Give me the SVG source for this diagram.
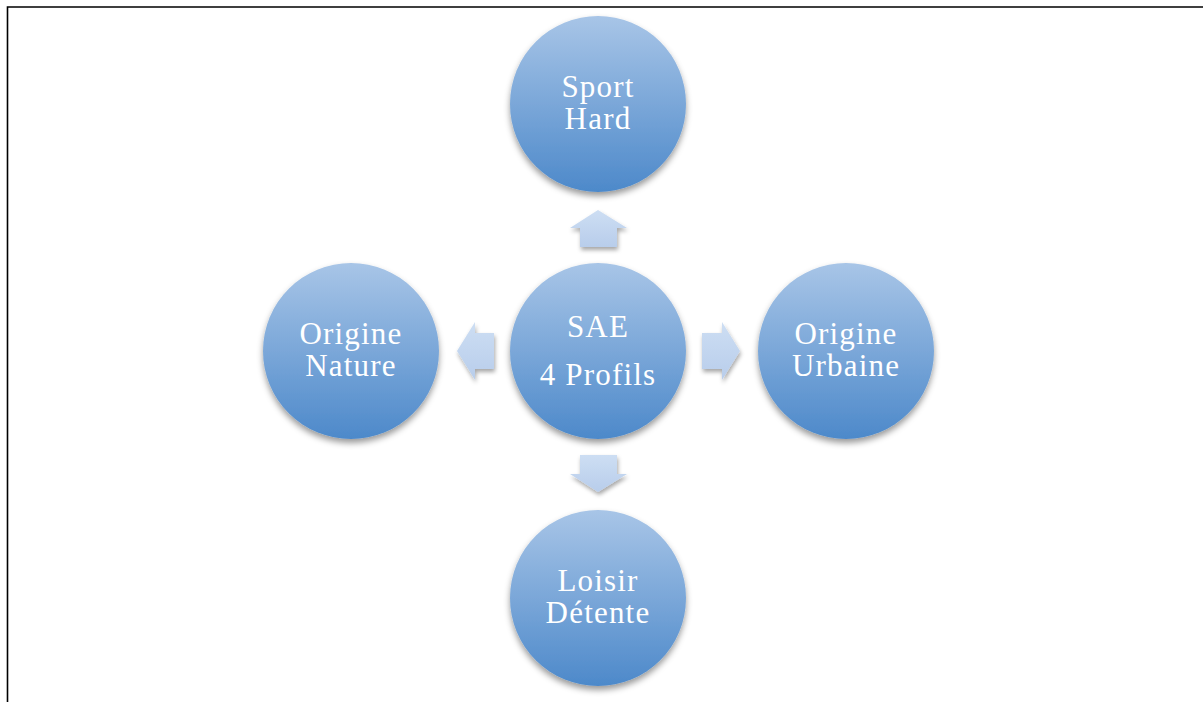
<svg xmlns="http://www.w3.org/2000/svg" width="1203" height="702" viewBox="0 0 1203 702">
<style>
.c{fill:url(#cg);filter:url(#sh)}
.a{fill:url(#ag);filter:url(#sh2)}
.t{font-family:"Liberation Serif","Times New Roman",serif;font-size:31px;fill:#fff;text-anchor:middle;letter-spacing:1.2px}
</style>
<defs>
<linearGradient id="cg" x1="0" y1="0" x2="0" y2="1">
<stop offset="0" stop-color="#a8c5e7"/>
<stop offset="1" stop-color="#4d89ca"/>
</linearGradient>
<linearGradient id="ag" x1="0" y1="0" x2="0" y2="1">
<stop offset="0" stop-color="#cddef3"/>
<stop offset="1" stop-color="#b8cdeb"/>
</linearGradient>
<filter id="sh" x="-20%" y="-20%" width="140%" height="150%">
<feDropShadow dx="0" dy="4" stdDeviation="3" flood-color="#000" flood-opacity="0.4"/>
</filter>
<filter id="sh2" x="-30%" y="-30%" width="160%" height="170%">
<feDropShadow dx="1" dy="3" stdDeviation="2" flood-color="#000" flood-opacity="0.35"/>
</filter>
</defs>
<rect width="1203" height="702" fill="#fff"/>
<path d="M7.5 702 V7 H1203" fill="none" stroke="#000" stroke-width="1.6"/>
<g id="connectors">
<polygon class="a" points="598,210 627,228 617,228 617,247 580,247 580,228 570,228"/>
<polygon class="a" points="598,492 627,474 617,474 617,455 580,455 580,474 570,474"/>
<polygon class="a" points="457,351 475,322 475,333 494,333 494,369 475,369 475,380"/>
<polygon class="a" points="740,351 722,322 722,333 702,333 702,369 722,369 722,380"/>
</g>
<g id="center">
<circle class="c" cx="598" cy="351" r="88"/>
<text class="t" x="598" y="337">SAE</text>
<text class="t" x="598" y="385">4 Profils</text>
</g>
<g id="sport">
<circle class="c" cx="598" cy="104" r="88"/>
<text class="t" x="598" y="97">Sport</text>
<text class="t" x="598" y="129">Hard</text>
</g>
<g id="nature">
<circle class="c" cx="351" cy="351" r="88"/>
<text class="t" x="351" y="344">Origine</text>
<text class="t" x="351" y="376">Nature</text>
</g>
<g id="urbaine">
<circle class="c" cx="846" cy="351" r="88"/>
<text class="t" x="846" y="344">Origine</text>
<text class="t" x="846" y="376">Urbaine</text>
</g>
<g id="loisir">
<circle class="c" cx="598" cy="598" r="88"/>
<text class="t" x="598" y="591">Loisir</text>
<text class="t" x="598" y="623">Détente</text>
</g>
</svg>
